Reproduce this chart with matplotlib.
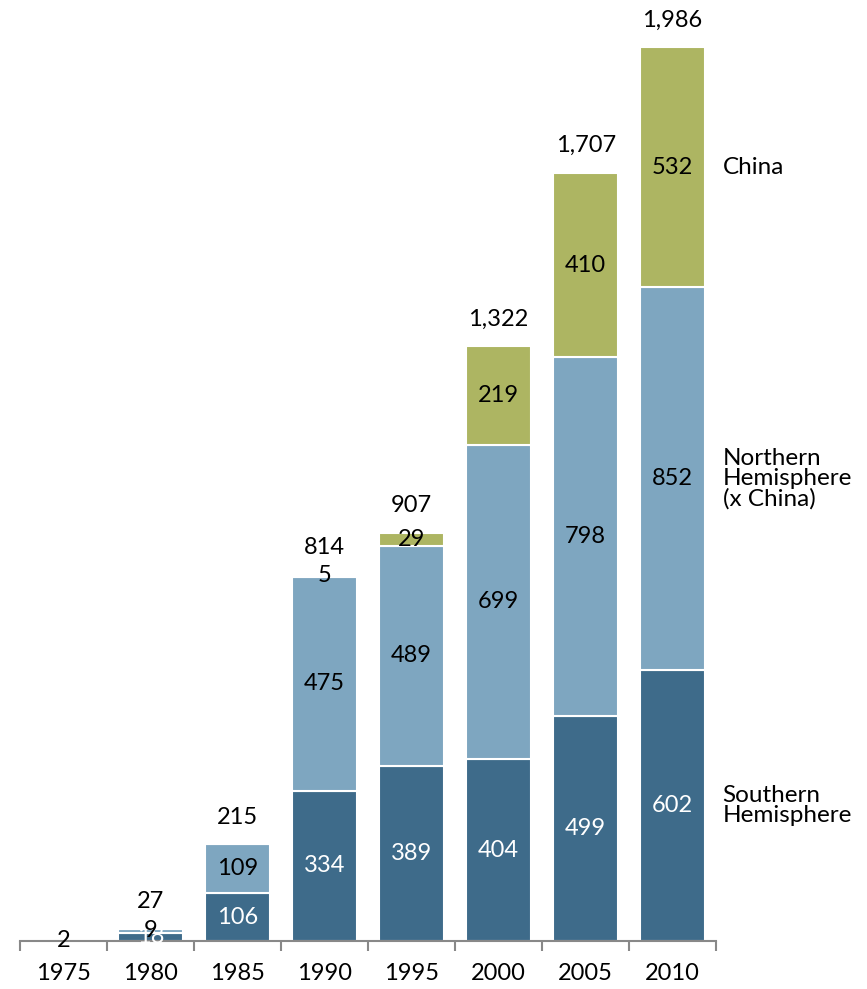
import matplotlib.pyplot as plt
import numpy as np

plt.rcParams['font.family'] = ['Lato', 'DejaVu Sans']

years = ['1975', '1980', '1985', '1990', '1995', '2000', '2005', '2010']
southern = [0, 18, 106, 334, 389, 404, 499, 602]
northern = [2, 9, 109, 475, 489, 699, 798, 852]
china = [0, 0, 0, 5, 29, 219, 410, 532]
series_names = ['Southern\nHemisphere', 'Northern\nHemisphere\n(x China)', 'China']

c_south = '#3E6B8A'
c_north = '#7EA6C0'
c_china = '#ADB562'

fig = plt.figure(figsize=(8.67, 9.89), dpi=100)
ax = fig.add_axes([0.023, 0.0485, 0.803, 0.91])

x = np.arange(len(years))
south = np.array(southern)
north = np.array(northern)
chn = np.array(china)
totals = south + north + chn

w = 0.75
ax.bar(x, south, w, color=c_south, edgecolor='white', linewidth=1.5)
ax.bar(x, north, w, bottom=south, color=c_north, edgecolor='white', linewidth=1.5)
ax.bar(x, chn, w, bottom=south + north, color=c_china, edgecolor='white', linewidth=1.5)

fs = 17
for i in range(len(years)):
    if south[i] > 0:
        ax.text(x[i], south[i] / 2, str(south[i]), ha='center', va='center',
                color='white', fontsize=fs)
    if north[i] > 0:
        ax.text(x[i], south[i] + north[i] / 2, str(north[i]), ha='center', va='center',
                color='black', fontsize=fs)
    if chn[i] > 0:
        ax.text(x[i], south[i] + north[i] + chn[i] / 2, str(chn[i]), ha='center', va='center',
                color='black', fontsize=fs)
    if totals[i] > 5:
        ax.annotate(f'{totals[i]:,}', (x[i], totals[i]), xytext=(0, 19.5),
                    textcoords='offset points', ha='center', va='center',
                    fontsize=fs, annotation_clip=False)

# series labels to the right of the last bar
last = len(years) - 1
mids = [south[last] / 2, south[last] + north[last] / 2, south[last] + north[last] + chn[last] / 2]
for name, m in zip(series_names, mids):
    ax.text(x[last] + 0.575, m, name, ha='left', va='center', fontsize=17.5,
            linespacing=0.95, clip_on=False)

ax.set_xlim(-0.5, len(years) - 0.5)
ax.set_ylim(0, 2000)
ax.set_xticks(x)
ax.set_xticklabels(years, fontsize=fs)
ax.set_xticks(np.arange(-0.5, len(years)), minor=True)
ax.tick_params(axis='x', which='major', length=0, pad=16)
ax.tick_params(axis='x', which='minor', length=7, width=1.5, color='#888888')
ax.set_yticks([])
for s in ['top', 'right', 'left']:
    ax.spines[s].set_visible(False)
ax.spines['bottom'].set_color('#888888')
ax.spines['bottom'].set_linewidth(1.5)

fig.savefig('out.png', dpi=100)
